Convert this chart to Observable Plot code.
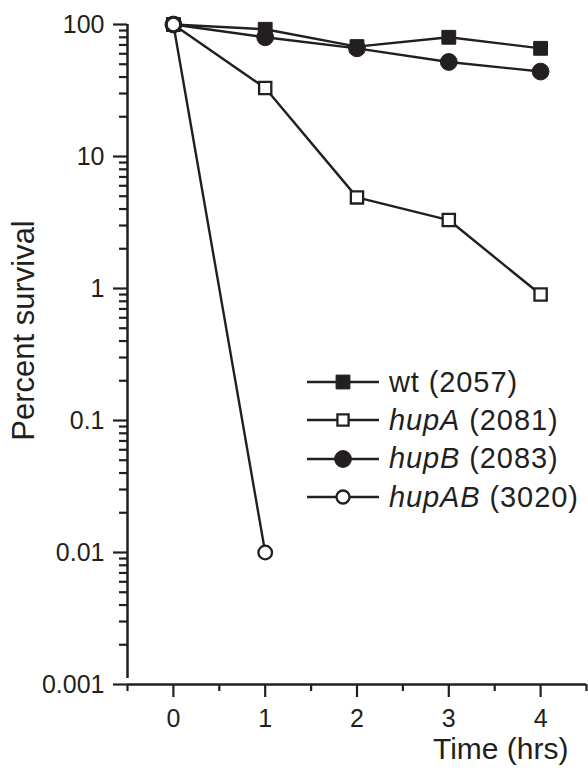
<!DOCTYPE html>
<html><head><meta charset="utf-8">
<script src="https://cdn.jsdelivr.net/npm/d3@7"></script>
<script src="https://cdn.jsdelivr.net/npm/@observablehq/plot@0.6"></script>
<style>
body{margin:0;background:#fff;}
#wrap{position:relative;width:588px;height:768px;font-family:"Liberation Sans",Arial,sans-serif;}
#legend{position:absolute;left:307px;top:363px;}
.row{display:flex;align-items:center;height:38.3px;}
.row span{font-size:29px;color:#231f20;margin-left:8px;white-space:nowrap;letter-spacing:0.9px;}
</style></head><body><div id="wrap"><div id="legend"></div></div>
<script>
// ---- data ----
const times = [0, 1, 2, 3, 4];
const wt    = [100, 92, 68, 80, 66];
const hupA  = [100, 33, 4.9, 3.3, 0.9];
const hupB  = [100, 80, 66, 52, 44];
const hupABtimes = [0, 1];
const hupAB = [100, 0.01];
const seriesNames  = ["wt", "hupA", "hupB", "hupAB"];
const legendGene   = ["wt", "hupA", "hupB", "hupAB"];
const legendItalic = [false, true, true, true];
const legendStrain = ["(2057)", "(2081)", "(2083)", "(3020)"];
const yMajor = [0.001, 0.01, 0.1, 1, 10, 100];
const yTickLabels = ["0.001", "0.01", "0.1", "1", "10", "100"];
const xMajor = [0, 1, 2, 3, 4];
const xTickLabels = ["0", "1", "2", "3", "4"];
const xMinor = [-0.5, 0.5, 1.5, 2.5, 3.5, 4.5];
const xDomain = [-0.5, 4.5];
const yDomain = [0.001, 100];
const xTitle = "Time (hrs)";
const yTitle = "Percent survival";

const ink = "#231f20";
const yMinor = [];
yMajor.slice(0, -1).forEach(d => { for (let m = 2; m <= 9; m++) yMinor.push(d * m); });

const rows = [];
times.forEach((t, i) => rows.push({series: "wt", t, v: wt[i]}));
times.forEach((t, i) => rows.push({series: "hupA", t, v: hupA[i]}));
times.forEach((t, i) => rows.push({series: "hupB", t, v: hupB[i]}));
hupABtimes.forEach((t, i) => rows.push({series: "hupAB", t, v: hupAB[i]}));

const styles = {
  wt:    {symbol: "square", fill: ink,    r: 7.8, strokeWidth: 1},
  hupA:  {symbol: "square", fill: "white", r: 6.9, strokeWidth: 2.3},
  hupB:  {symbol: "circle", fill: ink,    r: 8.4, strokeWidth: 1},
  hupAB: {symbol: "circle", fill: "white", r: 6.8, strokeWidth: 2.3}
};

const dots = seriesNames.map(s => Plot.dot(rows.filter(d => d.series === s), {
  x: "t", y: "v", symbol: styles[s].symbol, r: styles[s].r, fill: styles[s].fill,
  stroke: ink, strokeWidth: styles[s].strokeWidth
}));

const chart = Plot.plot({
  width: 588, height: 768,
  marginLeft: 127, marginRight: 2, marginTop: 24, marginBottom: 84,
  style: {fontFamily: '"Liberation Sans", Arial, sans-serif', fontSize: "25px", color: ink, background: "white", overflow: "visible"},
  x: {domain: xDomain, label: null},
  y: {type: "log", domain: yDomain, label: null},
  marks: [
    Plot.axisY(yMinor, {tickSize: 8, tickFormat: () => "", strokeWidth: 2.2, stroke: ink}),
    Plot.axisY(yMajor, {tickSize: 14, tickPadding: 9, strokeWidth: 2.2, stroke: ink, fill: ink, fontSize: 25,
      tickFormat: d => yTickLabels[yMajor.indexOf(d)]}),
    Plot.axisX(xMinor, {tickSize: 7, tickFormat: () => "", strokeWidth: 2.2, stroke: ink}),
    Plot.axisX(xMajor, {tickSize: 13, tickPadding: 12, strokeWidth: 2.2, stroke: ink, fill: ink, fontSize: 25,
      tickFormat: d => xTickLabels[xMajor.indexOf(d)]}),
    Plot.ruleY([yDomain[0]], {stroke: ink, strokeWidth: 2.5}),
    Plot.ruleX([xDomain[0]], {stroke: ink, strokeWidth: 2.5, y1: yDomain[0], y2: yDomain[1], insetTop: -6}),
    Plot.line(rows, {x: "t", y: "v", z: "series", stroke: ink, strokeWidth: 2.4}),
    ...dots,
    Plot.text([xTitle], {frameAnchor: "bottom-right", text: d => d, textAnchor: "end", lineAnchor: "middle",
      dx: -18, dy: 65, fontSize: 30, fill: ink}),
    Plot.text([yTitle], {frameAnchor: "left", text: d => d, rotate: -90, textAnchor: "middle", lineAnchor: "middle",
      dx: -103, dy: -24, fontSize: 31, fill: ink})
  ]
});
document.getElementById("wrap").prepend(chart);

// ---- legend (HTML overlay) ----
const legend = d3.select("#legend");
seriesNames.forEach((s, i) => {
  const st = styles[s];
  const row = legend.append("div").attr("class", "row");
  const svg = row.append("svg").attr("width", 74).attr("height", 38);
  svg.append("line").attr("x1", 0).attr("x2", 72).attr("y1", 19).attr("y2", 19)
    .attr("stroke", ink).attr("stroke-width", 2.4);
  const sym = st.symbol === "square" ? d3.symbolSquare : d3.symbolCircle;
  const lr = s === "hupAB" ? 6.5 : s === "hupA" ? 6.3 : st.r;
  svg.append("path").attr("transform", "translate(36,19)")
    .attr("d", d3.symbol(sym, lr * lr * Math.PI)())
    .attr("fill", st.fill).attr("stroke", ink).attr("stroke-width", st.strokeWidth);
  const span = row.append("span");
  span.html((legendItalic[i] ? `<i>${legendGene[i]}</i>` : legendGene[i]) + " " + legendStrain[i]);
});
</script></body></html>
